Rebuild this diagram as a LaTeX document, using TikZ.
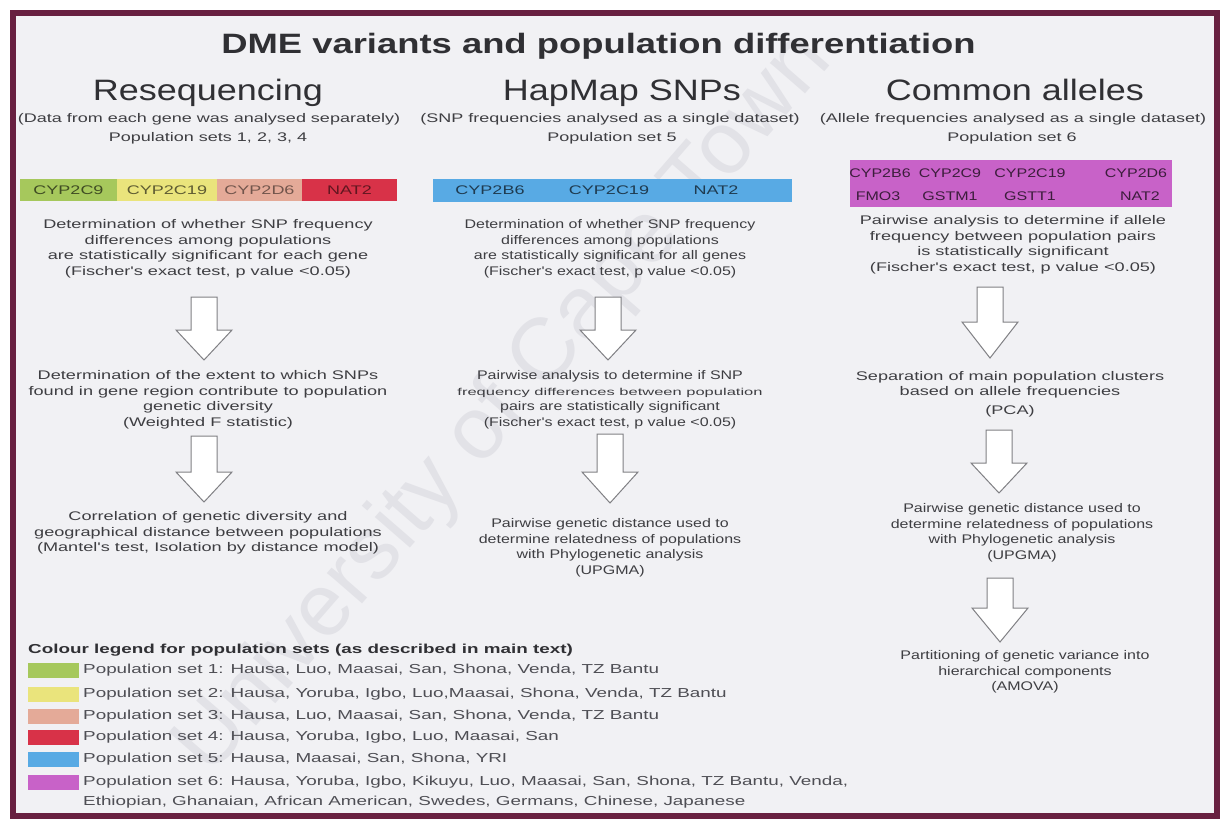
\documentclass[tikz,border=0pt]{standalone}
\usepackage{fontspec}
\setmainfont{Liberation Sans}
% horizontally widened faces used throughout the chart
\newfontfamily\titlefam[FakeStretch=1.3]{Liberation Sans}
\newfontfamily\headfam[FakeStretch=1.22]{Liberation Sans}
\newfontfamily\widefam[FakeStretch=1.45]{Liberation Sans}
\newfontfamily\subfam[FakeStretch=1.44]{Liberation Sans}
\newfontfamily\narrowfam[FakeStretch=1.28]{Liberation Sans}
\newfontfamily\squeezefam[FakeStretch=1.65]{Liberation Sans}
\newfontfamily\markfam{Liberation Sans}

\definecolor{framecol}{RGB}{104,32,64}
\definecolor{paper}{RGB}{241,241,244}
\definecolor{ink}{RGB}{62,62,66}
\definecolor{headink}{RGB}{48,48,52}
\definecolor{legink}{RGB}{78,78,84}
\definecolor{setone}{RGB}{166,200,92}
\definecolor{settwo}{RGB}{234,228,124}
\definecolor{setthree}{RGB}{228,170,152}
\definecolor{setfour}{RGB}{216,50,72}
\definecolor{setfive}{RGB}{88,170,228}
\definecolor{setsix}{RGB}{200,98,200}
\definecolor{arrowline}{RGB}{128,128,132}
\definecolor{markcol}{RGB}{226,226,231}

\newcommand\bodywide{\widefam\fontsize{12.5}{15.5}\selectfont}
\newcommand\bodynarrow{\narrowfam\fontsize{12.5}{15.5}\selectfont}

% hollow downward block arrow: x, top, start of head, tip
\newcommand\blockarrow[4]{%
  \draw[bigarrow] ({#1-13},#2) -- ({#1+13},#2) -- ({#1+13},#3) -- ({#1+28},#3)
    -- (#1,#4) -- ({#1-28},#3) -- ({#1-13},#3) -- cycle;}

\tikzset{
  titletext/.style={inner sep=0pt, text=headink, font={\titlefam\bfseries\fontsize{28}{32}\selectfont}},
  headtext/.style={inner sep=0pt, text=headink, font={\headfam\fontsize{29.5}{34}\selectfont}},
  subtext/.style={inner sep=0pt, text=ink, font={\subfam\fontsize{12.5}{15}\selectfont}},
  bodyA/.style={inner sep=0pt, align=center, text=ink, font=\bodywide},
  bodyB/.style={inner sep=0pt, align=center, text=ink, font=\bodynarrow},
  barcell/.style={inner sep=0pt, minimum height=22pt, font={\subfam\fontsize{12.5}{15}\selectfont}},
  barlabel/.style={inner sep=0pt, font={\narrowfam\fontsize{12.5}{15}\selectfont}, text=setsix!30!black},
  bigarrow/.style={draw=arrowline, fill=white!97!paper, line width=1pt, line join=miter},
  swatch/.style={inner sep=0pt, minimum width=51pt, minimum height=15pt},
  legtext/.style={inner sep=0pt, anchor=west, text=legink, text height=9pt, text depth=2.5pt,
    font={\widefam\fontsize{13}{16}\selectfont}},
  legtitle/.style={legtext, text=headink, font={\widefam\bfseries\fontsize{13}{16}\selectfont}},
  watermark/.style={inner sep=0pt, text=markcol, font={\markfam\fontsize{88}{96}\selectfont}}
}

\begin{document}
\begin{tikzpicture}[x=1pt,y=-1pt]
\useasboundingbox (0,0) rectangle (1223,822);
\fill[white] (0,0) rectangle (1223,822);
\fill[paper] (12,12) rectangle (1217,816);

% faint diagonal watermark behind the chart
\node[watermark, rotate=49] (mark) at (505,405) {University of Cape Town};

\draw[framecol, line width=6pt] (12.5,12.5) rectangle (1216.5,815.5);

% title and column headings
\node[titletext, anchor=base] (title) at (598.5,53) {DME variants and population differentiation};
\node[headtext, anchor=base] (headA) at (208,100) {Resequencing};
\node[headtext, anchor=base] (headB) at (622,100) {HapMap SNPs};
\node[headtext, anchor=base] (headC) at (1015,100) {Common alleles};

\node[subtext, anchor=base] (subA) at (209,122) {(Data from each gene was analysed separately)};
\node[subtext, anchor=base] (popA) at (208,141) {Population sets 1, 2, 3, 4};
\node[subtext, anchor=base] (subB) at (610,122) {(SNP frequencies analysed as a single dataset)};
\node[subtext, anchor=base] (popB) at (612,141) {Population set 5};
\node[subtext, anchor=base] (subC) at (1013,122) {(Allele frequencies analysed as a single dataset)};
\node[subtext, anchor=base] (popC) at (1012,141) {Population set 6};

% gene bars
\node[barcell, fill=setone, minimum width=97pt, text=setone!38!black] (geneA1) at (68.5,190) {CYP2C9};
\node[barcell, fill=settwo, minimum width=100pt, text=settwo!40!black] (geneA2) at (167,190) {CYP2C19};
\node[barcell, fill=setthree, minimum width=85pt, text=setthree!50!black] (geneA3) at (259.5,190) {CYP2D6};
\node[barcell, fill=setfour, minimum width=95pt, text=setfour!45!black] (geneA4) at (349.5,190) {NAT2};

\fill[setfive] (433,179) rectangle (792,202);
\node[barcell, text=setfive!35!black] (geneB1) at (490,190.5) {CYP2B6};
\node[barcell, text=setfive!35!black] (geneB2) at (609,190.5) {CYP2C19};
\node[barcell, text=setfive!35!black] (geneB3) at (716,190.5) {NAT2};

\fill[setsix] (850,160) rectangle (1172,207);
\node[barlabel] (geneC1) at (880,173) {CYP2B6};
\node[barlabel] (geneC2) at (950,173) {CYP2C9};
\node[barlabel] (geneC3) at (1030,173) {CYP2C19};
\node[barlabel] (geneC4) at (1136,173) {CYP2D6};
\node[barlabel] (geneC5) at (878,196) {FMO3};
\node[barlabel] (geneC6) at (950,196) {GSTM1};
\node[barlabel] (geneC7) at (1030,196) {GSTT1};
\node[barlabel] (geneC8) at (1140,196) {NAT2};

% resequencing column
\node[bodyA] (stepA1) at (208,249) {Determination of whether SNP frequency\\differences among populations\\are statistically significant for each gene\\(Fischer's exact test, p value <0.05)};
\blockarrow{204}{297}{330}{360}
\node[bodyA] (stepA2) at (208,400) {Determination of the extent to which SNPs\\found in gene region contribute to population\\genetic diversity\\(Weighted F statistic)};
\blockarrow{204}{436}{472}{502}
\node[bodyA] (stepA3) at (208,533) {Correlation of genetic diversity and\\geographical distance between populations\\(Mantel's test, Isolation by distance model)};

% HapMap column
\node[bodyB] (stepB1) at (610,249) {Determination of whether SNP frequency\\differences among populations\\are statistically significant for all genes\\(Fischer's exact test, p value <0.05)};
\blockarrow{608}{297}{330}{360}
\node[bodyB] (stepB2) at (610,400) {Pairwise analysis to determine if SNP\\{\squeezefam\fontsize{10}{15.5}\selectfont frequency differences between population}\\pairs are statistically significant\\(Fischer's exact test, p value <0.05)};
\blockarrow{610}{434}{472}{503}
\node[bodyB] (stepB3) at (610,548) {Pairwise genetic distance used to\\determine relatedness of populations\\with Phylogenetic analysis\\(UPGMA)};

% common alleles column
\node[bodyA] (stepC1) at (1013,245) {Pairwise analysis to determine if allele\\frequency between population pairs\\is statistically significant\\(Fischer's exact test, p value <0.05)};
\blockarrow{990}{287}{322}{358}
\node[bodyA] (stepC2) at (1010,394) {Separation of main population clusters\\based on allele frequencies\\[3pt](PCA)};
\blockarrow{999}{430}{463}{493}
\node[bodyB] (stepC3) at (1022,533) {Pairwise genetic distance used to\\determine relatedness of populations\\with Phylogenetic analysis\\(UPGMA)};
\blockarrow{1000}{578}{608}{642}
\node[bodyB] (stepC4) at (1025,672) {Partitioning of genetic variance into\\hierarchical components\\(AMOVA)};

% colour legend
\node[legtitle] (legend) at (28,650) {Colour legend for population sets (as described in main text)};
\node[swatch, fill=setone] (keyA) at (53.5,670.5) {};
\node[swatch, fill=settwo] (keyB) at (53.5,694.5) {};
\node[swatch, fill=setthree] (keyC) at (53.5,716.5) {};
\node[swatch, fill=setfour] (keyD) at (53.5,737.5) {};
\node[swatch, fill=setfive] (keyE) at (53.5,759.5) {};
\node[swatch, fill=setsix] (keyF) at (53.5,782.5) {};
\node[legtext] (textA) at (83,670.5) {Population set 1: Hausa, Luo, Maasai, San, Shona, Venda, TZ Bantu};
\node[legtext] (textB) at (83,694.5) {Population set 2: Hausa, Yoruba, Igbo, Luo,Maasai, Shona, Venda, TZ Bantu};
\node[legtext] (textC) at (83,716.5) {Population set 3: Hausa, Luo, Maasai, San, Shona, Venda, TZ Bantu};
\node[legtext] (textD) at (83,737.5) {Population set 4: Hausa, Yoruba, Igbo, Luo, Maasai, San};
\node[legtext] (textE) at (83,759.5) {Population set 5: Hausa, Maasai, San, Shona, YRI};
\node[legtext] (textF) at (83,782.5) {Population set 6: Hausa, Yoruba, Igbo, Kikuyu, Luo, Maasai, San, Shona, TZ Bantu, Venda,};
\node[legtext] (textG) at (83,802) {Ethiopian, Ghanaian, African American, Swedes, Germans, Chinese, Japanese};
\end{tikzpicture}
\end{document}
